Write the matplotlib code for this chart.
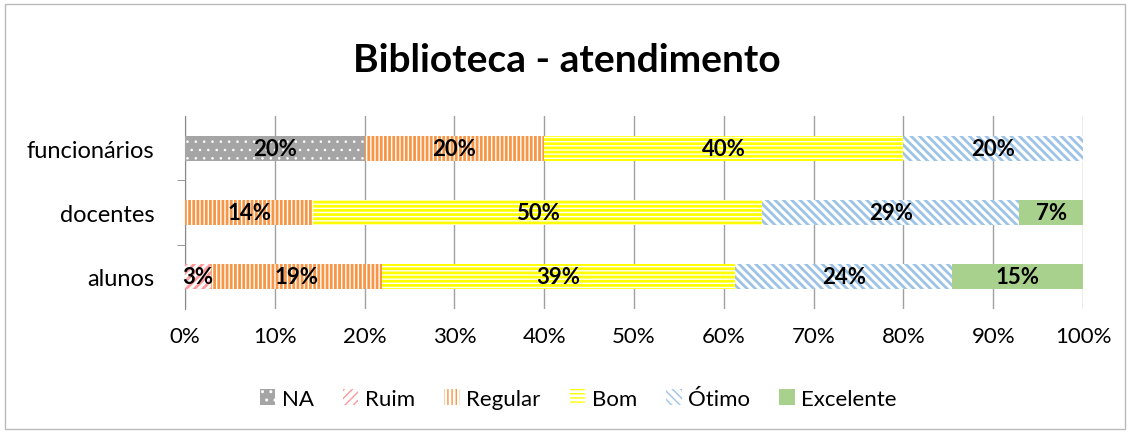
import numpy as np
import matplotlib.pyplot as plt
from matplotlib.patches import Rectangle

plt.rcParams['font.family'] = ['Lato', 'DejaVu Sans']

grupos = ['alunos', 'docentes', 'funcionários']
categorias = ['NA', 'Ruim', 'Regular', 'Bom', 'Ótimo', 'Excelente']

# percentuais por grupo (alunos, docentes, funcionários)
na = [0.0, 0.0, 20.0]
ruim = [2.9, 0.0, 0.0]
regular = [19.0, 14.3, 20.0]
bom = [39.4, 50.0, 40.0]
otimo = [24.1, 28.6, 20.0]
excelente = [14.6, 7.1, 0.0]

valores = [na, ruim, regular, bom, otimo, excelente]

# (cor de fundo, cor da hachura, hachura, espessura da hachura)
estilos = [
    ('#A5A5A5', 'white', '..', 0.6),
    ('white', '#FF9A9A', '////', 2.0),
    ('white', '#F79646', '||||', 2.0),
    ('white', '#FFFF00', '----', 2.0),
    ('white', '#9DC3E6', '\\\\\\\\', 2.0),
    ('#A9D18E', '#A9D18E', None, 1.0),
]

fig = plt.figure(figsize=(11.34, 4.35), dpi=100)
ax = fig.add_axes([185 / 1134, 1 - 310 / 435, 898 / 1134, 193 / 435])

y = np.arange(len(grupos))
esquerda = np.zeros(len(grupos))
for nome, vals, (fc, hc, h, hl) in zip(categorias, valores, estilos):
    vals = np.array(vals)
    with plt.rc_context({'hatch.linewidth': hl}):
        ax.barh(y, vals, left=esquerda, height=0.39, color=fc, edgecolor=hc,
                hatch=h, linewidth=0, label=nome, zorder=3)
    for yi, v, l in zip(y, vals, esquerda):
        if v > 0:
            ax.text(l + v / 2, yi, f'{v:.0f}%', ha='center', va='center',
                    fontsize=16, fontweight='bold', color='black', zorder=4)
    esquerda += vals

ax.set_xlim(0, 100)
ax.set_ylim(-0.5, 2.5)
ax.set_xticks(np.arange(0, 101, 10))
ax.set_xticklabels([f'{t}%' for t in range(0, 101, 10)], fontsize=16)
ax.set_yticks(y)
ax.set_yticklabels(grupos, fontsize=17)
ax.set_yticks([0.5, 1.5], minor=True)
ax.tick_params(axis='y', which='major', length=0, pad=22)
ax.tick_params(axis='y', which='minor', length=6, color='#888888')
ax.tick_params(axis='x', length=0, pad=12)
ax.grid(axis='x', color='#A0A0A0', linewidth=1, zorder=0)
for s in ['top', 'right', 'bottom']:
    ax.spines[s].set_visible(False)
ax.spines['left'].set_color('#888888')

fig.text(0.5, 1 - 60 / 435, 'Biblioteca - atendimento', ha='center', va='center',
         fontsize=28, fontweight='bold')

fig.legend(loc='center', bbox_to_anchor=(0.51, 1 - 400 / 435), ncol=6, frameon=False,
           fontsize=16, handlelength=0.7, handleheight=0.7, columnspacing=1.3,
           handletextpad=0.3)

fig.patches.append(Rectangle((5 / 1134, 5 / 435), 1120 / 1134, 425 / 435,
                             transform=fig.transFigure, fill=False,
                             edgecolor='#BBBBBB', linewidth=1))

fig.savefig('out.png', dpi=100)
